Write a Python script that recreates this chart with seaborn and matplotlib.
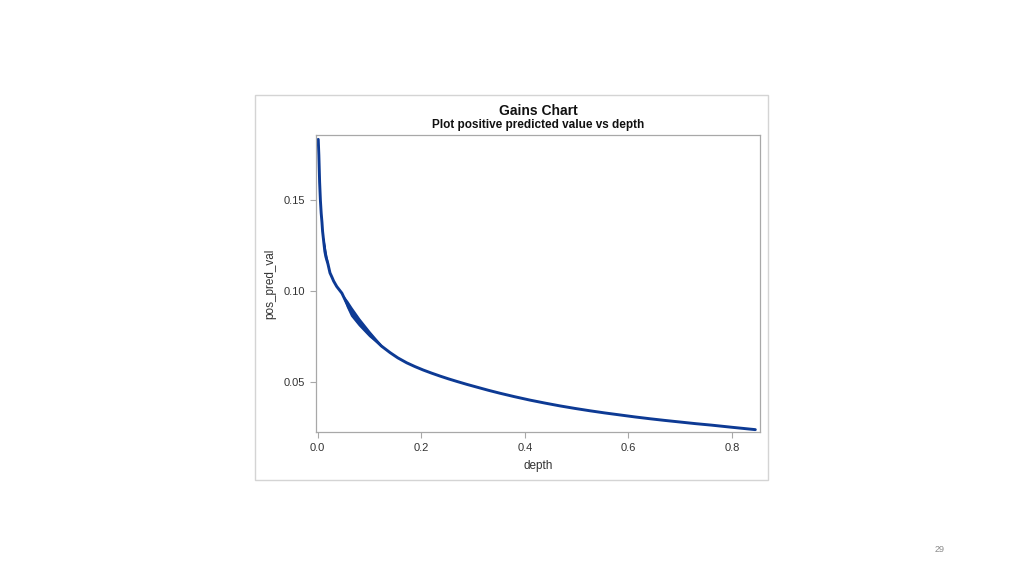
import numpy as np
import pandas as pd
import matplotlib
matplotlib.use("Agg")
import matplotlib.pyplot as plt
import seaborn as sns
from matplotlib.patches import Rectangle

# ---------------------------------------------------------------------------
# Data
# ---------------------------------------------------------------------------
depth = [0.0013, 0.0025, 0.004, 0.0055, 0.007, 0.0085, 0.0097, 0.012, 0.014,
         0.016, 0.020, 0.024, 0.028, 0.031, 0.037, 0.047, 0.055, 0.063,
         0.072, 0.0824, 0.095, 0.108, 0.123, 0.140, 0.155, 0.172, 0.188,
         0.204, 0.220, 0.237, 0.253, 0.269, 0.288, 0.307, 0.330, 0.352,
         0.380, 0.410, 0.440, 0.468, 0.497, 0.526, 0.555, 0.584, 0.613,
         0.642, 0.670, 0.700, 0.730, 0.760, 0.800, 0.845]
pos_pred_val = [0.1837, 0.175, 0.160, 0.150, 0.143, 0.138, 0.133, 0.127, 0.122,
                0.119, 0.115, 0.110, 0.1075, 0.1055, 0.1025, 0.0988, 0.0940, 0.0896,
                0.0858, 0.0823, 0.0780, 0.0740, 0.0697, 0.0660, 0.0631, 0.0604, 0.0583,
                0.0564, 0.0547, 0.0530, 0.0515, 0.0501, 0.0485, 0.0470, 0.0452, 0.0436,
                0.0417, 0.0398, 0.0381, 0.0366, 0.0352, 0.0339, 0.0327, 0.0316, 0.0305,
                0.0295, 0.0286, 0.0277, 0.0268, 0.0260, 0.0248, 0.0235]

# thick noisy parts of the curve
band_depth = [0.050, 0.057, 0.065, 0.080, 0.100, 0.125]
band_upper = [0.0970, 0.0944, 0.0909, 0.0848, 0.0776, 0.0692]
band_lower = [0.0970, 0.0914, 0.0865, 0.0812, 0.0752, 0.0692]

blob_depth = [0.011, 0.014, 0.017, 0.020]
blob_upper = [0.1290, 0.1240, 0.1190, 0.1150]
blob_lower = [0.1290, 0.1205, 0.1165, 0.1150]

xticks = [0.0, 0.2, 0.4, 0.6, 0.8]
yticks = [0.05, 0.10, 0.15]

df = pd.DataFrame({"depth": depth, "pos_pred_val": pos_pred_val})

# ---------------------------------------------------------------------------
# Plot
# ---------------------------------------------------------------------------
sns.set_style("white")
plt.rcParams["font.family"] = ["Liberation Sans", "DejaVu Sans"]

LINE = "#0d3a94"
GRID = "#a8a8a8"
TXT = "#333333"

fig = plt.figure(figsize=(10.24, 5.76), dpi=100)
W, H = 1024, 576

# light frame around the embedded chart
fig.patches.append(Rectangle((255 / W, 1 - 480 / H), 513 / W, 385 / H,
                             transform=fig.transFigure, fill=False,
                             edgecolor="#d4d4d4", linewidth=1.0))

ax = fig.add_axes([316 / W, 1 - 432 / H, 444 / W, 297 / H])
sns.lineplot(data=df, x="depth", y="pos_pred_val", color=LINE,
             linewidth=2.1, ax=ax, estimator=None, sort=False,
             solid_joinstyle="round")
ax.fill_between(band_depth, band_lower, band_upper, color=LINE, linewidth=1.2,
                edgecolor=LINE)
ax.fill_between(blob_depth, blob_lower, blob_upper, color=LINE, linewidth=1.0,
                edgecolor=LINE)

ax.set_xlim(-0.003, 0.854)
ax.set_ylim(0.0222, 0.1861)
ax.set_xticks(xticks)
ax.set_xticklabels([f"{v:.1f}" for v in xticks])
ax.set_yticks(yticks)
ax.set_yticklabels([f"{v:.2f}" for v in yticks])

for s in ax.spines.values():
    s.set_color(GRID)
    s.set_linewidth(0.9)
ax.tick_params(axis="both", which="major", direction="out", length=4,
               width=0.8, color=GRID, labelsize=8, labelcolor=TXT, pad=4,
               bottom=True, left=True)

ax.set_xlabel("depth", fontsize=8.5, color=TXT, labelpad=5)
ax.set_ylabel("pos_pred_val", fontsize=8.5, color=TXT, labelpad=5)

fig.text(538 / W, 1 - 111 / H, "Gains Chart", ha="center", va="center",
         fontsize=10, fontweight="bold", color="#111111")
fig.text(538 / W, 1 - 125 / H, "Plot positive predicted value vs depth",
         ha="center", va="center", fontsize=8.5, fontweight="bold",
         color="#111111")

# slide page number
fig.text(940 / W, 1 - 549 / H, "29", ha="center", va="center", fontsize=6.5,
         color="#8a8a8a")

fig.savefig("out.png", dpi=100, facecolor="white")
plt.close(fig)
